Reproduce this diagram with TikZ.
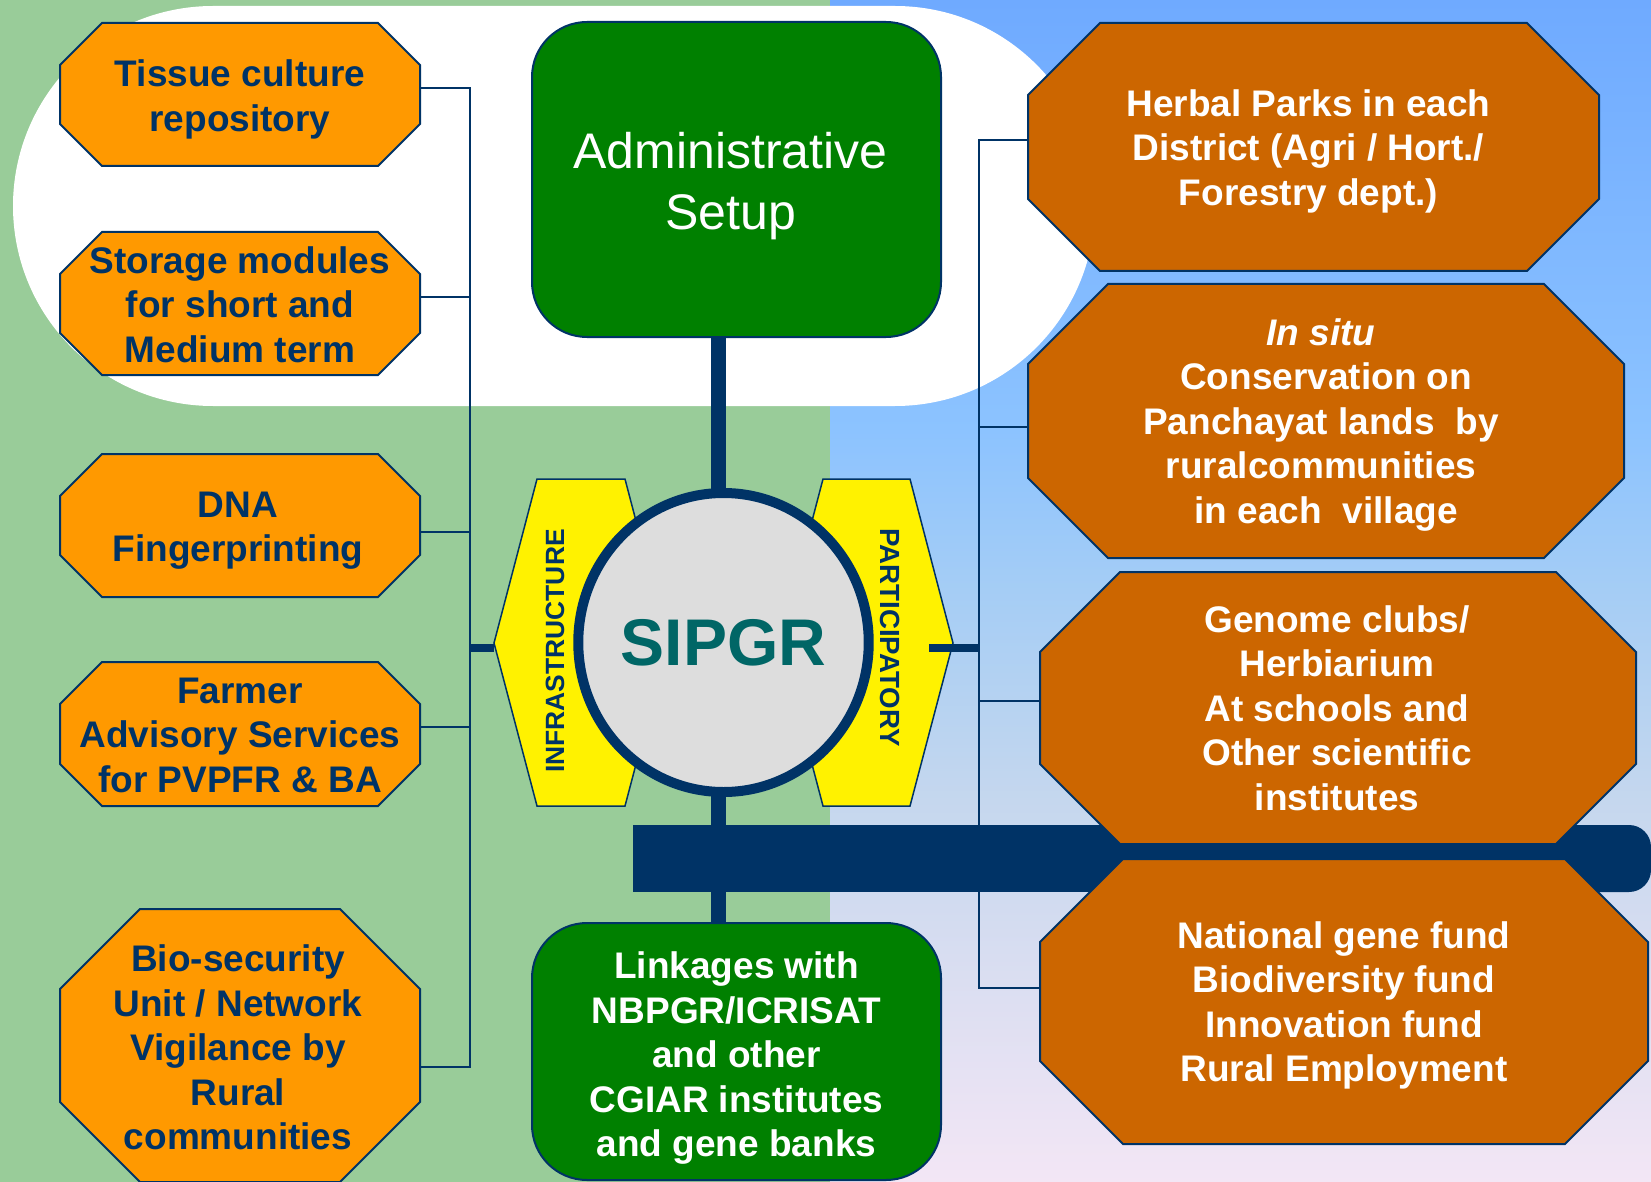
\documentclass[tikz,border=0pt]{standalone}
\usepackage{fontspec}
\setmainfont{Liberation Sans}
\usetikzlibrary{calc,shapes.geometric}
\definecolor{navy}{HTML}{003366}
\definecolor{bggreen}{HTML}{99CC99}
\definecolor{orL}{HTML}{FF9900}
\definecolor{orR}{HTML}{CC6600}
\definecolor{gbox}{HTML}{008000}
\definecolor{sipteal}{HTML}{006666}
\definecolor{circfill}{HTML}{DDDDDD}
\definecolor{bA}{HTML}{6FAAFF}
\definecolor{bB}{HTML}{8CC3FF}
\definecolor{bC}{HTML}{A5CDF5}
\definecolor{bD}{HTML}{C5D7EE}
\definecolor{bE}{HTML}{F3E6F5}
\pgfdeclarelayer{bg}
\pgfdeclarelayer{lines}
\pgfdeclarelayer{shapes}
\pgfsetlayers{bg,lines,shapes,main}
\tikzset{
  txt/.style={font=\fontsize{37}{44.5}\selectfont\bfseries, align=center, inner sep=0pt, outer sep=0pt},
  frame/.style={inner sep=0pt, outer sep=0pt},
  conn/.style={draw=navy, line width=2pt},
  trunk/.style={draw=navy, line width=15pt},
  stub/.style={draw=navy, line width=8pt},
  octline/.style={draw=navy, line width=2pt, line join=miter},
  hexst/.style={draw=navy, line width=1.5pt, fill=yellow},
  gnode/.style={draw=navy, line width=2pt, fill=gbox, rounded corners=55pt, inner sep=0pt, outer sep=0pt},
  gtext/.style={text=white, align=center, inner sep=0pt, outer sep=0pt},
  rotlabel/.style={text=navy, font=\fontsize{26.4}{30}\selectfont\bfseries, inner sep=0pt}
}
\newcommand\octbox[9]{%
  \node[frame, minimum width=#4pt, minimum height=#5pt] (#1) at (#2,#3) {};
  \node[txt, #8] (#1-t) at (#1.center) {#9};
  \begin{pgfonlayer}{shapes}
  \filldraw[octline, fill=#7] ($(#1.north west)+(#6,0)$) -- ($(#1.north east)+(-#6,0)$) -- ($(#1.north east)+(0,#6)$) -- ($(#1.south east)+(0,-#6)$) -- ($(#1.south east)+(-#6,0)$) -- ($(#1.south west)+(#6,0)$) -- ($(#1.south west)+(0,-#6)$) -- ($(#1.north west)+(0,#6)$) -- cycle;
  \end{pgfonlayer}}
\begin{document}
\begin{tikzpicture}[x=1pt,y=-1pt]
\useasboundingbox (0,0) rectangle (1651,1182);
% background
\begin{pgfonlayer}{bg}
\fill[bggreen] (0,0) rectangle (830.5,1182);
\shade[top color=bA,bottom color=bB] (830,0) rectangle (1651,430.5);
\shade[top color=bB,bottom color=bC] (830,430) rectangle (1651,590.5);
\shade[top color=bC,bottom color=bD] (830,590) rectangle (1651,800.5);
\shade[top color=bD,bottom color=bE] (830,800) rectangle (1651,1182);
\fill[white, rounded corners=200pt] (13,6) rectangle (1095,406);
\end{pgfonlayer}
% yellow hexagons
\begin{pgfonlayer}{shapes}
\filldraw[hexst] (494,643) -- (537,479) -- (625,479) -- (668,643) -- (625,806) -- (537,806) -- cycle;
\filldraw[hexst] (780,643) -- (823,479) -- (910,479) -- (953,643) -- (910,806) -- (823,806) -- cycle;
\end{pgfonlayer}
% left boxes
\octbox{tc}{240}{94.5}{360}{143}{42}{orL}{text=navy, yshift=-5pt}{Tissue culture\\repository}
\octbox{sm}{240}{303.5}{360}{143}{42}{orL}{text=navy, yshift=-1pt}{Storage modules\\for short and\\Medium term}
\octbox{dna}{240}{525.5}{360}{143}{42}{orL}{text=navy, yshift=-5pt, xshift=-2pt}{DNA\\Fingerprinting}
\octbox{fa}{240}{734}{360}{144}{42}{orL}{text=navy, yshift=-1pt}{Farmer\\Advisory Services\\for PVPFR \& BA}
\octbox{bio}{240}{1045.5}{360}{273}{80}{orL}{text=navy, yshift=-2pt, xshift=-2pt}{Bio-security\\Unit / Network\\Vigilance by\\Rural\\communities}
% right boxes
\octbox{hp}{1313.5}{147}{571}{248}{72}{orR}{text=white, yshift=-4pt, xshift=-5pt}{Herbal Parks in each\\District (Agri / Hort./\\Forestry dept.)}
\octbox{is}{1326}{421}{596}{274}{80}{orR}{text=white, yshift=-4pt, xshift=-5pt}{\textit{In situ}\\~Conservation on\\Panchayat lands~~by\\ruralcommunities\\~in each~~village}
\octbox{gc}{1338}{708}{596}{272}{80}{orR}{text=white, xshift=-1pt}{Genome clubs/\\Herbiarium\\At schools and\\Other scientific\\institutes}
\octbox{ng}{1344}{1001.5}{608}{285}{83}{orR}{text=white, yshift=-4pt}{National gene fund\\Biodiversity fund\\Innovation fund\\Rural Employment}
% green boxes
\node[gnode, minimum width=409pt, minimum height=315pt] (adm) at (736.5,179.5) {};
\node[gtext, font=\fontsize{50}{61}\selectfont, yshift=-7pt, xshift=-6pt] (adm-t) at (adm.center) {Administrative\\Setup};
\node[gnode, minimum width=409pt, minimum height=257pt] (lnk) at (736.5,1051.5) {};
\node[gtext, font=\fontsize{37}{44.5}\selectfont\bfseries, yshift=-7pt] (lnk-t) at (lnk.center) {Linkages with\\NBPGR/ICRISAT\\and other\\CGIAR institutes\\and gene banks};
% centre circle
\node[ellipse, draw=navy, line width=10pt, fill=circfill, minimum width=281pt, minimum height=299pt, inner sep=0pt, text=sipteal, font=\fontsize{66}{70}\selectfont\bfseries] (sipgr) at (723.5,642.5) {SIPGR};
\node[rotlabel, rotate=90] (infra) at (555,651) {INFRASTRUCTURE};
\node[rotlabel, rotate=-90, font=\fontsize{27.7}{30}\selectfont\bfseries] (partic) at (890,637.5) {PARTICIPATORY};
% connectors
\coordinate (lbus) at (469.5,0);
\coordinate (rbus) at (979,0);
\coordinate (tcC) at ($(tc.east)+(0,-6.5)$);
\coordinate (smC) at ($(sm.east)+(0,-6.5)$);
\coordinate (dnaC) at ($(dna.east)+(0,6.5)$);
\coordinate (faC) at ($(fa.east)+(0,-7)$);
\coordinate (bioC) at ($(bio.east)+(0,21.5)$);
\coordinate (hpC) at ($(hp.west)+(0,-7)$);
\coordinate (isC) at ($(is.west)+(0,6)$);
\coordinate (gcC) at ($(gc.west)+(0,-7)$);
\coordinate (ngC) at ($(ng.west)+(0,-13.5)$);
\coordinate (sc) at ($(sipgr.center)+(-5,0)$);
\coordinate (lstub) at (494,648);
\coordinate (rstub) at (929,648);
\begin{pgfonlayer}{lines}
\draw[conn] (tcC) -- (tcC -| lbus) -- (bioC -| lbus) -- (bioC);
\draw[conn] (smC) -- (smC -| lbus);
\draw[conn] (dnaC) -- (dnaC -| lbus);
\draw[conn] (faC) -- (faC -| lbus);
\draw[conn] (hpC) -- (hpC -| rbus) -- (ngC -| rbus) -- (ngC);
\draw[conn] (isC) -- (isC -| rbus);
\draw[conn] (gcC) -- (gcC -| rbus);
\fill[navy] (633,825) rectangle (1600,892);
\fill[navy, rounded corners=22pt] (1500,825) rectangle (1651,892);
\draw[trunk] (sc |- adm.south) -- (sc |- lnk.north);
\draw[stub] (lstub) -- (lstub -| lbus);
\end{pgfonlayer}
\begin{pgfonlayer}{shapes}
\draw[stub] (rstub) -- (rstub -| rbus);
\end{pgfonlayer}
\end{tikzpicture}
\end{document}
